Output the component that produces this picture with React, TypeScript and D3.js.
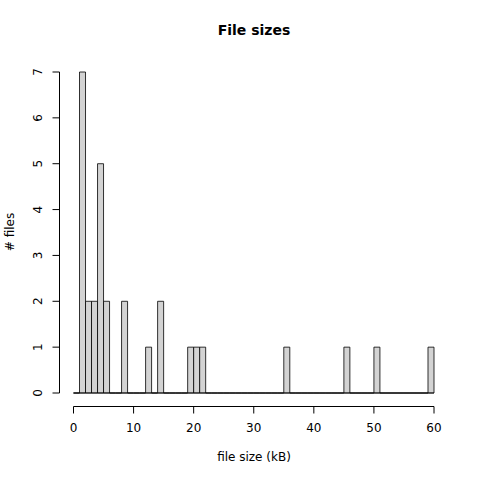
import React from "react";
import * as d3 from "d3";

const binStarts = d3.range(0, 60);
const nonZeroBins = [1, 2, 3, 4, 5, 8, 12, 14, 19, 20, 21, 35, 45, 50, 59];
const nonZeroCounts = [7, 2, 2, 5, 2, 2, 1, 2, 1, 1, 1, 1, 1, 1, 1];
const xTicks = [0, 10, 20, 30, 40, 50, 60];
const yTicks = [0, 1, 2, 3, 4, 5, 6, 7];
const title = "File sizes";
const xLabel = "file size (kB)";
const yLabel = "# files";

export default function App() {
  const W = 480, H = 480;
  const x = d3.scaleLinear().domain([0, 60]).range([73.5, 434]);
  const y = d3.scaleLinear().domain([0, 7]).range([393, 72]);
  const counts = binStarts.map((b) => {
    const i = nonZeroBins.indexOf(b);
    return i >= 0 ? nonZeroCounts[i] : 0;
  });
  const font = "DejaVu Sans, sans-serif";
  const axisY = 406.5;
  const axisX = 59.5;
  return (
    <svg width={W} height={H} style={{ position: "absolute", left: 0, top: 0, background: "white" }}>
      <rect width={W} height={H} fill="white" />
      <text x={254} y={35} textAnchor="middle" fontFamily={font} fontWeight="bold" fontSize={14}>{title}</text>
      {binStarts.map((b, i) => (
        <path key={b}
          d={`M${x(b)},${y(0)}V${y(counts[i])}H${x(b + 1)}V${y(0)}Z`}
          fill="#d3d3d3" stroke="#000" strokeWidth={0.8} />
      ))}
      <line x1={x(0)} x2={x(60)} y1={y(0)} y2={y(0)} stroke="#000" strokeWidth={0.8} />
      <line x1={x(0)} x2={x(60)} y1={axisY} y2={axisY} stroke="#000" />
      {xTicks.map((t) => (
        <g key={t}>
          <line x1={x(t)} x2={x(t)} y1={axisY} y2={axisY + 7} stroke="#000" />
          <text x={x(t)} y={432} textAnchor="middle" fontFamily={font} fontSize={12}>{t}</text>
        </g>
      ))}
      <line x1={axisX} x2={axisX} y1={y(0)} y2={y(7)} stroke="#000" />
      {yTicks.map((t) => (
        <g key={t}>
          <line x1={axisX} x2={axisX - 7} y1={y(t)} y2={y(t)} stroke="#000" />
          <text transform={`translate(42,${y(t)}) rotate(-90)`} textAnchor="middle" fontFamily={font} fontSize={12}>{t}</text>
        </g>
      ))}
      <text x={254} y={461} textAnchor="middle" fontFamily={font} fontSize={12}>{xLabel}</text>
      <text transform={`translate(14,232) rotate(-90)`} textAnchor="middle" fontFamily={font} fontSize={12}>{yLabel}</text>
    </svg>
  );
}
